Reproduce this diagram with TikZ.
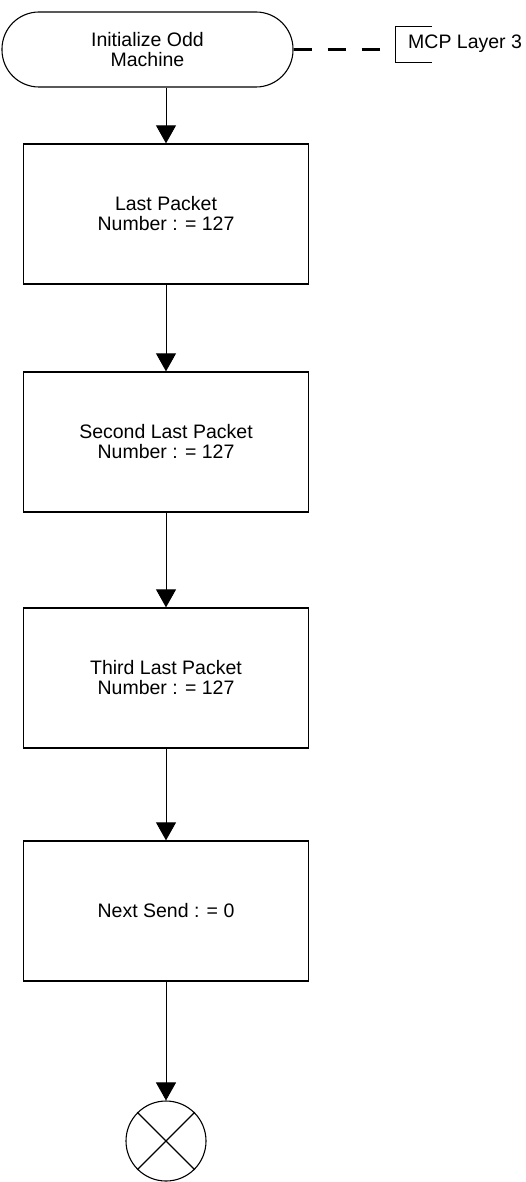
\documentclass[tikz,border=0pt]{standalone}
\usepackage{fontspec}
\setmainfont{Liberation Sans}
\usetikzlibrary{arrows.meta}
\tikzset{
  every node/.style={font=\fontsize{19.5}{20}\selectfont, align=center},
  terminal/.style={draw, line width=1.1pt, rounded corners=37pt,
    minimum width=291pt, minimum height=75pt, inner sep=0pt},
  stepbox/.style={draw, line width=1.3pt, minimum width=285pt,
    minimum height=140pt, inner sep=0pt},
  endmark/.style={draw, circle, line width=1.1pt, minimum size=80pt, inner sep=0pt},
  flow/.style={line width=0.9pt, -{Triangle[width=20pt,length=18pt]}},
  annot/.style={line width=2.4pt, dash pattern=on 18pt off 16pt},
}
\begin{document}
\begin{tikzpicture}[x=1pt,y=-1pt]
  \useasboundingbox (0,0) rectangle (526,1182);

  % start terminal and its annotation
  \node[terminal] (term) at (147.5,49.5) {Initialize Odd\\Machine};
  \node[anchor=west, inner sep=0pt] (mcp) at (408,44) {MCP Layer 3};
  \coordinate (brk) at (395,45);
  \draw[line width=1pt] ([xshift=37pt,yshift=18pt]brk) -- ([yshift=18pt]brk)
        -- ([yshift=-18pt]brk) -- ([xshift=37pt,yshift=-18pt]brk);
  \coordinate (dashend) at (381,0);
  \draw[annot] (term.east) -- (dashend |- term.east);

  % process steps
  \node[stepbox] (b1) at (166,214) {Last Packet\\Number : = 127};
  \node[stepbox] (b2) at (166,442) {Second Last Packet\\Number : = 127};
  \node[stepbox] (b3) at (166,678) {Third Last Packet\\Number : = 127};
  \node[stepbox] (b4) at (166,911) {Next Send : = 0};
  \node[endmark] (stop) at (166,1141) {};
  \draw[line width=1.1pt] (stop.north west) -- (stop.south east)
                          (stop.north east) -- (stop.south west);

  % flow connectors
  \draw[flow] (term.south -| b1.north) -- (b1.north);
  \draw[flow] (b1.south) -- (b2.north);
  \draw[flow] (b2.south) -- (b3.north);
  \draw[flow] (b3.south) -- (b4.north);
  \draw[flow] (b4.south) -- (stop.north);
\end{tikzpicture}
\end{document}
